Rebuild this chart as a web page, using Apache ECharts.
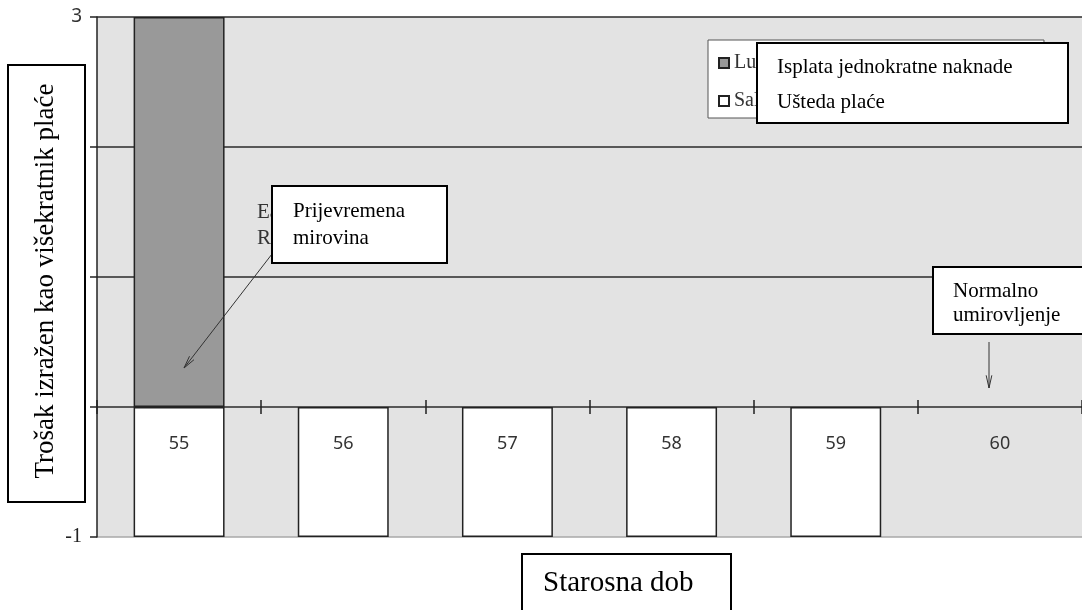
<!DOCTYPE html>
<html>
<head>
<meta charset="utf-8">
<script src="https://cdn.jsdelivr.net/npm/echarts@6/dist/echarts.min.js"></script>
<style>
  html, body { margin: 0; padding: 0; background: #fff; }
  #chart { width: 1082px; height: 610px; }
</style>
</head>
<body>
<div id="chart"></div>
<script>
// Ages on the horizontal axis
const ages = ['55', '56', '57', '58', '59', '60'];
// Cost as a multiple of salary
const lumpSumPayment = [3, '-', '-', '-', '-', '-'];
const salarySaving = [-1, -1, -1, -1, -1, '-'];
// Value axis range
const yMin = -1;
const yMax = 3;
const yStep = 1;

const serif = 'Liberation Serif';
const sans = 'Noto Sans';

const chart = echarts.init(document.getElementById('chart'), null, { renderer: 'canvas' });

function box(x, y, w, h, z) {
  return {
    type: 'rect', z: z, silent: true,
    shape: { x: x, y: y, width: w, height: h },
    style: { fill: '#fff', stroke: '#000', lineWidth: 2 }
  };
}
function txt(x, y, s, size, z, color) {
  return {
    type: 'text', z: z, silent: true, x: x, y: y,
    style: { text: s, font: size + 'px "' + serif + '"', fill: color || '#000',
             textAlign: 'left', textVerticalAlign: 'middle' }
  };
}
function arrow(x1, y1, x2, y2, z) {
  const ang = Math.atan2(y2 - y1, x2 - x1);
  const L = 13, a = 0.22;
  const p1 = [x2 - L * Math.cos(ang - a), y2 - L * Math.sin(ang - a)];
  const p2 = [x2 - L * Math.cos(ang + a), y2 - L * Math.sin(ang + a)];
  return [
    { type: 'line', z: z, silent: true, shape: { x1: x1, y1: y1, x2: x2, y2: y2 },
      style: { stroke: '#333', lineWidth: 1 } },
    { type: 'polyline', z: z, silent: true, shape: { points: [p1, [x2, y2], p2] },
      style: { stroke: '#333', lineWidth: 1, fill: null } }
  ];
}

const option = {
  animation: false,
  backgroundColor: '#fff',
  grid: {
    left: 97, right: 0, top: 17, bottom: 73,
    show: true, backgroundColor: '#e3e3e3', borderWidth: 0
  },
  legend: {
    orient: 'vertical',
    left: 708, top: 40,
    padding: [13, 150, 7, 10],
    itemGap: 18,
    itemWidth: 10, itemHeight: 10,
    icon: 'rect',
    backgroundColor: '#fff',
    borderColor: '#555', borderWidth: 1,
    textStyle: { fontFamily: serif, fontSize: 20, color: '#333' },
    data: ['Lump sum payment', 'Salary saving']
  },
  xAxis: {
    type: 'category',
    data: ages,
    position: 'bottom',
    offset: -123,
    z: 10,
    axisLine: { show: false, onZero: false },
    axisTick: { show: true, inside: true, length: 14, lineStyle: { color: '#222', width: 1.5 } },
    axisLabel: { margin: 21, fontFamily: sans, fontSize: 18, color: '#333' },
    splitLine: { show: false }
  },
  yAxis: {
    type: 'value',
    min: yMin, max: yMax, interval: yStep,
    axisLine: { show: true, lineStyle: { color: '#222', width: 1.5 } },
    axisTick: { show: true, length: 7, lineStyle: { color: '#222', width: 1.5 } },
    axisLabel: {
      margin: 15,
      formatter: function (v) {
        if (v === yMax) return '{s|' + v + '}';
        if (v === yMin) return '{r|' + v + '}';
        return '';
      },
      rich: {
        s: { fontFamily: sans, fontSize: 19, color: '#333' },
        r: { fontFamily: serif, fontSize: 20, color: '#222' }
      }
    },
    splitLine: {
      show: true,
      lineStyle: { color: ['#a8a8a8', '#2a2a2a', '#2a2a2a', '#2a2a2a', '#2a2a2a'], width: 1.5 }
    }
  },
  series: [
    {
      name: 'Lump sum payment',
      type: 'bar', stack: 'cost',
      barWidth: '55.4%',
      itemStyle: { color: '#999999', borderColor: '#222', borderWidth: 1.5 },
      data: lumpSumPayment
    },
    {
      name: 'Salary saving',
      type: 'bar', stack: 'cost',
      barWidth: '55.4%',
      itemStyle: { color: '#ffffff', borderColor: '#222', borderWidth: 1.5 },
      data: salarySaving
    }
  ],
  graphic: [].concat(
    [
      // callout texts partly hidden under the boxes
      txt(257, 212, 'Early', 21, 40, '#333'),
      txt(257, 238, 'Retirement', 21, 40, '#333'),

      // legend caption box
      box(757, 43, 311, 80, 100),
      txt(777, 67, 'Isplata jednokratne naknade', 21, 101),
      txt(777, 102, 'Ušteda plaće', 21, 101),

      // early retirement callout
      box(272, 186, 175, 77, 100),
      txt(293, 211, 'Prijevremena', 21, 101),
      txt(293, 238, 'mirovina', 21, 101),

      // normal retirement callout
      box(933, 267, 160, 67, 100),
      txt(953, 291, 'Normalno', 21, 101),
      txt(953, 315, 'umirovljenje', 21, 101),

      // axis title boxes
      box(8, 65, 77, 437, 100),
      {
        type: 'text', z: 101, silent: true, x: 46, y: 281, rotation: Math.PI / 2,
        style: { text: 'Trošak izražen kao višekratnik plaće', font: '27px "' + serif + '"',
                 fill: '#000', textAlign: 'center', textVerticalAlign: 'middle' }
      },
      box(522, 554, 209, 70, 100),
      txt(543, 583, 'Starosna dob', 29, 101)
    ],
    arrow(272, 254, 184, 368, 90),
    arrow(989, 342, 989, 388, 90)
  )
};

chart.setOption(option);
</script>
</body>
</html>
